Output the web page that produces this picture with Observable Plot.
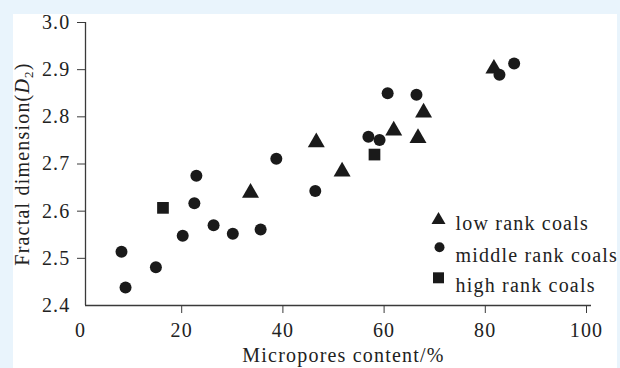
<!DOCTYPE html>
<html>
<head>
<meta charset="utf-8">
<script src="https://cdn.jsdelivr.net/npm/d3@7"></script>
<script src="https://cdn.jsdelivr.net/npm/@observablehq/plot@0.6"></script>
<style>
  html, body { margin: 0; padding: 0; background: #e9f4fc; }
  #wrap { position: relative; width: 620px; height: 368px; overflow: hidden; }
  #panel { position: absolute; left: 13px; top: 14px; width: 604px; height: 354px; background: #fff; }
  #chart { position: absolute; left: 0; top: 0; width: 620px; height: 368px; }
  #chart svg { font-family: "Liberation Serif", "Times New Roman", serif; }
  #chart svg text { letter-spacing: 1.2px; }
</style>
</head>
<body>
<div id="wrap"><div id="panel"></div><div id="chart"></div></div>
<script>
// Micropore content (%) and fractal dimension D2 for each coal rank
const lowX  = [33.6, 46.6, 51.7, 61.9, 66.7, 67.8, 81.7];
const lowY  = [2.639, 2.746, 2.684, 2.771, 2.755, 2.809, 2.902];
const midX  = [8.1, 8.9, 14.9, 20.2, 22.5, 22.9, 26.3, 30.1, 35.6, 38.7, 46.4, 56.9, 59.1, 60.7, 66.4, 82.8, 85.7];
const midY  = [2.514, 2.438, 2.481, 2.548, 2.617, 2.675, 2.570, 2.552, 2.561, 2.711, 2.643, 2.758, 2.751, 2.850, 2.847, 2.889, 2.913];
const highX = [16.3, 58.1];
const highY = [2.607, 2.720];

const rankNames = ["low rank coals", "middle rank coals", "high rank coals"];
const rankSymbols = ["triangle", "circle", "square"];
const xTicks = [0, 20, 40, 60, 80, 100];
const yTicks = [2.4, 2.5, 2.6, 2.7, 2.8, 2.9, 3.0];
const xTitle = "Micropores content/%";

const toRows = (xs, ys, rank) => xs.map((x, i) => ({x, y: ys[i], rank}));
const groups = [
  toRows(lowX, lowY, rankNames[0]),
  toRows(midX, midY, rankNames[1]),
  toRows(highX, highY, rankNames[2])
];
const dotR = [6.3, 6, 6.6];
const legendR = [5.2, 5, 6.2];
const ink = "#1a1a1a";
const axisColor = "#3a3a3a";

const marks = [
  // axis lines
  Plot.ruleX([0], {stroke: axisColor, strokeWidth: 1.3, dx: 5}),
  Plot.ruleY([2.4], {stroke: axisColor, strokeWidth: 1.3, dx: 5}),
  // y ticks and labels
  Plot.axisY({ticks: yTicks.slice(1), text: null, tickSize: 8, dx: 5, stroke: axisColor, label: null}),
  Plot.axisY({ticks: yTicks, tickFormat: d => d.toFixed(1), tickSize: 0, tickPadding: 15, dx: 5, label: null, fontSize: 20}),
  // x ticks and labels
  Plot.axisX({ticks: xTicks.slice(1), text: null, tickSize: 8, stroke: axisColor, label: null}),
  Plot.axisX({ticks: xTicks, tickFormat: d => String(d), tickSize: 0, tickPadding: 17, label: null, fontSize: 20}),
  // data points
  ...groups.map((rows, i) => Plot.dot(rows, {x: "x", y: "y", symbol: () => rankSymbols[i], r: dotR[i], fill: ink, stroke: "none"})),
  // legend
  ...rankNames.map((name, i) => Plot.dot([name], {
    frameAnchor: "top-left", dx: 358 + (i === 1 ? 1 : 0), dy: [197.5, 224.7, 255.3][i],
    symbol: () => rankSymbols[i], r: legendR[i], fill: ink, stroke: "none"
  })),
  ...rankNames.map((name, i) => Plot.text([name], {
    frameAnchor: "top-left", dx: 375, dy: [193.3, 225, 255][i],
    text: d => d, textAnchor: "start", fontSize: 20, fill: "#222"
  }))
];

const chart = Plot.plot({
  width: 620,
  height: 368,
  marginLeft: 80,
  marginRight: 34,
  marginTop: 22,
  marginBottom: 63,
  style: {background: "transparent", fontSize: "20px", color: "#222", overflow: "visible"},
  x: {domain: [0, 100], axis: null},
  y: {domain: [2.4, 3.0], axis: null},
  marks
});
document.getElementById("chart").appendChild(chart);

const svg = d3.select(chart);
// x-axis title
svg.append("text")
  .attr("x", 343.5).attr("y", 362)
  .attr("text-anchor", "middle")
  .attr("font-size", 20).attr("fill", "#222")
  .text(xTitle);
// y-axis title with italic D and subscript 2
const yt = svg.append("text")
  .attr("transform", "translate(29,164) rotate(-90)")
  .attr("text-anchor", "middle")
  .attr("font-size", 20).attr("fill", "#222");
yt.append("tspan").text("Fractal dimension(");
yt.append("tspan").attr("font-style", "italic").text("D");
yt.append("tspan").attr("font-size", 13).attr("dy", 4).text("2");
yt.append("tspan").attr("dy", -4).text(")");
</script>
</body>
</html>
